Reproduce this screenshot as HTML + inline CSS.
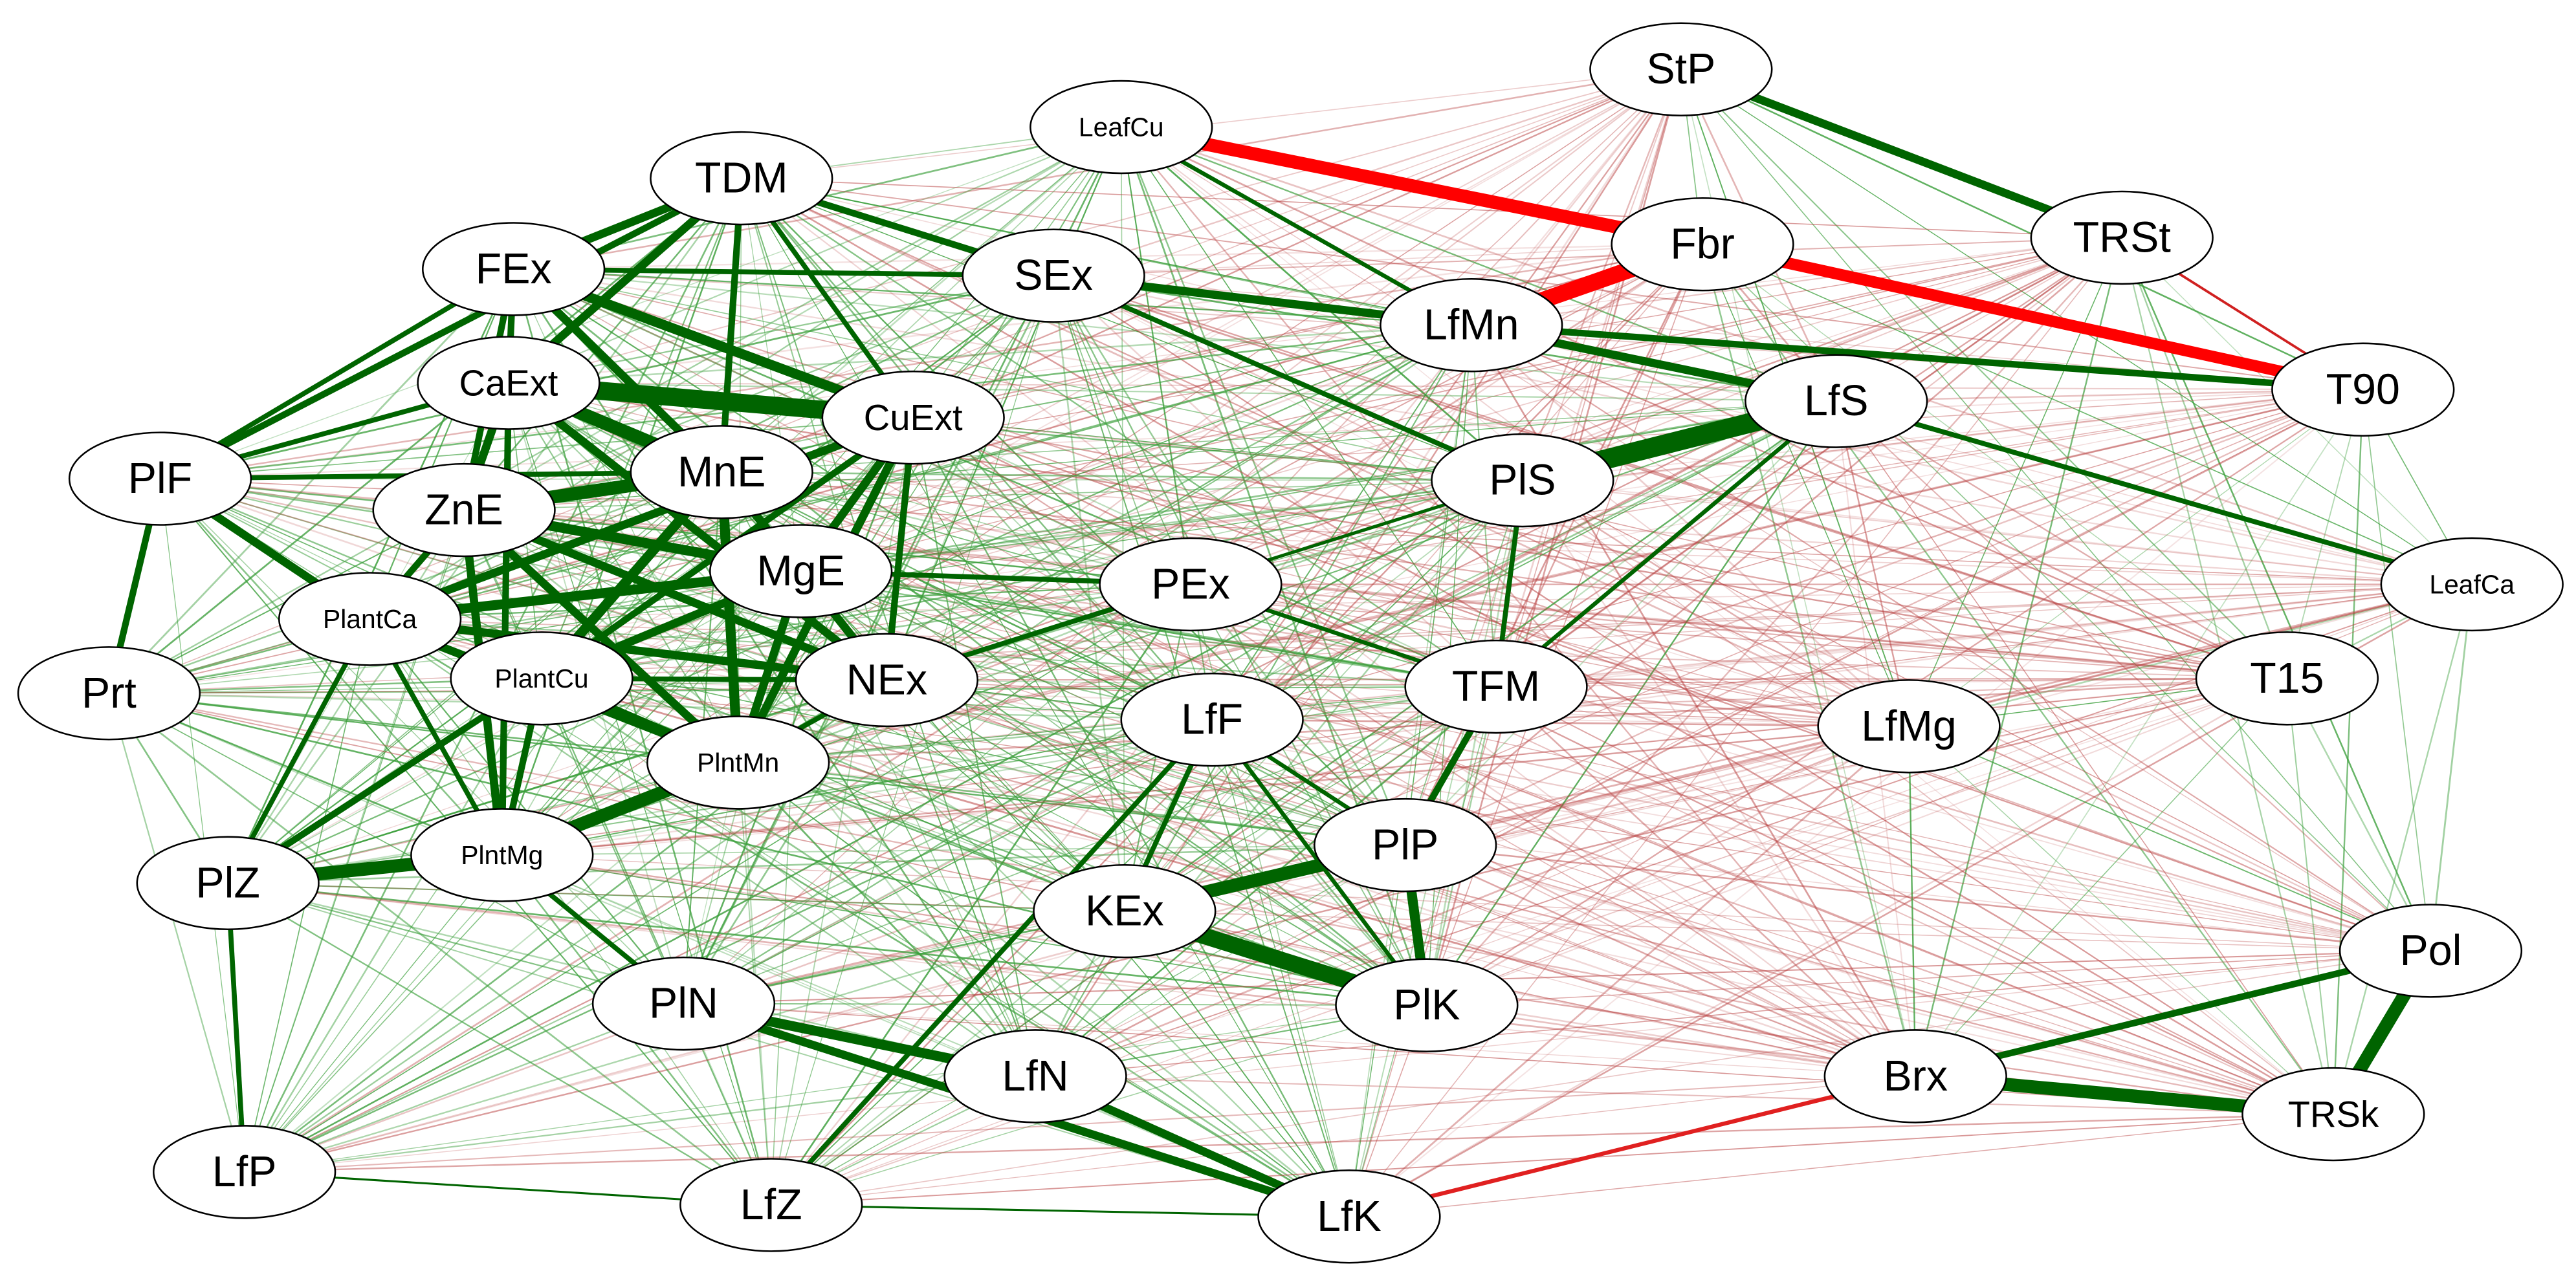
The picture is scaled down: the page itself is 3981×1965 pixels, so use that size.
<!DOCTYPE html>
<html><head><meta charset="utf-8"><style>html,body{margin:0;padding:0;background:#fff}svg{display:block}</style></head>
<body>
<svg id="s" xmlns="http://www.w3.org/2000/svg" width="3981" height="1965" viewBox="0 0 1560 770" preserveAspectRatio="none">
<g id="edges"></g><g id="thick"></g>
<g id="nodes"></g>
</svg>
<script>
var N={StP:[1018,42],LeafCu:[679,77],TDM:[449,108],Fbr:[1031,148],TRSt:[1285,144],FEx:[311,163],SEx:[638,167],LfMn:[891,197],T90:[1431,236],CaExt:[308,232],CuExt:[553,253],LfS:[1112,243],PlF:[97,290],ZnE:[281,309],MnE:[437,286],PlS:[922,291],MgE:[485,346],PEx:[721,354],LeafCa:[1497,354],PlantCa:[224,375],Prt:[66,420],PlantCu:[328,411],NEx:[537,412],TFM:[906,416],LfF:[734,436],T15:[1385,411],LfMg:[1156,440],PlntMn:[447,462],PlP:[851,512],PlntMg:[304,518],PlZ:[138,535],KEx:[681,552],Pol:[1472,576],PlN:[414,608],PlK:[864,609],LfN:[627,652],Brx:[1160,652],TRSk:[1413,675],LfP:[148,710],LfZ:[467,730],LfK:[817,737]};
var A={Fbr:1,StP:1,TRSt:1,T90:1,T15:1,LfMg:1,Pol:1,Brx:1,TRSk:1,LeafCa:1};
var ns="http://www.w3.org/2000/svg";
function ln(g,a,b,c,w,o){var e=document.createElementNS(ns,"line");var p=N[a],q=N[b];e.setAttribute("x1",p[0]);e.setAttribute("y1",p[1]);e.setAttribute("x2",q[0]);e.setAttribute("y2",q[1]);e.setAttribute("stroke",c);e.setAttribute("stroke-width",w);if(o<1)e.setAttribute("stroke-opacity",o);g.appendChild(e);}
var seed=7;function r(){seed=(seed*16807)%2147483647;return seed/2147483647;}
var keys=Object.keys(N),eg=document.getElementById("edges");
for(var i=0;i<keys.length;i++)for(var j=i+1;j<keys.length;j++){var a=keys[i],b=keys[j];var ia=A[a]||0,ib=A[b]||0;var red=(ia!=ib);var rv=r();if(rv<0.15)continue;
var c=red?"#b84040":"#3a9e3a";var o=red?0.15+0.4*r():0.3+0.55*r();ln(eg,a,b,c,0.5+0.6*r(),o);}
var T=[["LeafCu","Fbr","#f00",8],["Fbr","LfMn","#f00",10],["Fbr","T90","#f00",7],["LfK","Brx","#e02020",2.5],["TRSt","T90","#d02020",1.5],
["StP","TRSt",5],["LfMn","T90",4],["LfMn","LfS",5],["LfS","PlS",12],["SEx","LfMn",5],["SEx","PlS",3],["LfS","LeafCa",3],["PlS","TFM",3],["LfS","TFM",2.5],["LeafCu","LfMn",2.5],
["CaExt","CuExt",11],["FEx","CuExt",6],["TDM","CaExt",5],["FEx","MnE",5],["CaExt","MnE",8],["ZnE","MnE",8],["ZnE","MgE",6],["MnE","PlntMn",6],["MgE","PlantCa",6],["PlantCa","NEx",5],["PlantCu","PlntMn",5],["CuExt","PlntMn",5],["CuExt","PlantCa",5],["ZnE","PlntMg",5],["CaExt","PlntMg",4],["MnE","PlantCu",6],["MgE","PlantCu",5],["CaExt","NEx",5],["ZnE","NEx",5],["CuExt","MgE",5],["CuExt","PlantCu",4],["MgE","PlntMn",5],["ZnE","PlntMn",5],["CaExt","ZnE",5],["MnE","MgE",5],["FEx","ZnE",4],["FEx","CaExt",4],["TDM","FEx",5],["TDM","MnE",4],["TDM","SEx",4],["TDM","CuExt",3],["FEx","SEx",3],["MnE","NEx",5],["ZnE","PlantCa",4],["CuExt","NEx",4],["PlantCa","PlntMn",5],
["PlF","TDM",4],["PlF","Prt",4],["PlF","PlantCa",5],["PlF","MnE",3],["PlF","CaExt",3],["PlF","FEx",3],["PlZ","PlntMg",8],["PlZ","PlantCu",4],["PlZ","PlantCa",3],["PlZ","LfP",3],["PlntMg","PlntMn",8],["PlantCu","PlntMg",4],["PlntMg","PlN",3],["PlantCa","PlntMg",3],
["PlN","LfN",6],["PlN","LfK",5],["LfN","LfK",5],["KEx","PlP",8],["KEx","PlK",10],["PlP","PlK",6],["TFM","PlP",4],["LfF","KEx",3],["LfZ","LfF",3],["PEx","NEx",3],["PEx","MgE",3],["PEx","PlS",2],["LfF","PlP",2.5],["PEx","TFM",2.5],["NEx","PlantCu",3],["PlntMn","NEx",3],["LfF","PlK",2.5],
["Pol","Brx",4],["Brx","TRSk",8],["Pol","TRSk",8],["LfP","LfZ",1.2],["LfZ","LfK",1.2]];
var tg=document.getElementById("thick");
T.forEach(function(t){if(typeof t[2]=="string")ln(tg,t[0],t[1],t[2],t[3],1);else ln(tg,t[0],t[1],"#006400",t[2],1);});
var ng=document.getElementById("nodes");
keys.forEach(function(k){var p=N[k];var e=document.createElementNS(ns,"ellipse");e.setAttribute("cx",p[0]);e.setAttribute("cy",p[1]);e.setAttribute("rx",55);e.setAttribute("ry",28);e.setAttribute("fill","#fff");e.setAttribute("stroke","#000");e.setAttribute("stroke-width",1);ng.appendChild(e);});
</script>
<svg style="position:absolute;left:0;top:0" width="3981" height="1965" viewBox="0 0 1560 770" preserveAspectRatio="none" font-family="Liberation Sans, Arial, sans-serif" text-anchor="middle" dominant-baseline="central">
<g font-size="26">
<text x="1018" y="42">StP</text><text x="449" y="108">TDM</text><text x="1031" y="148">Fbr</text><text x="1285" y="144">TRSt</text><text x="311" y="163">FEx</text><text x="638" y="167">SEx</text><text x="891" y="197">LfMn</text><text x="1431" y="236">T90</text><text x="308" y="232" font-size="22">CaExt</text><text x="553" y="253" font-size="22">CuExt</text><text x="1112" y="243">LfS</text><text x="97" y="290">PlF</text><text x="281" y="309">ZnE</text><text x="437" y="286">MnE</text><text x="922" y="291">PlS</text><text x="485" y="346">MgE</text><text x="721" y="354">PEx</text><text x="66" y="420">Prt</text><text x="537" y="412">NEx</text><text x="906" y="416">TFM</text><text x="734" y="436">LfF</text><text x="1385" y="411">T15</text><text x="1156" y="440">LfMg</text><text x="851" y="512">PlP</text><text x="138" y="535">PlZ</text><text x="681" y="552">KEx</text><text x="1472" y="576">Pol</text><text x="414" y="608">PlN</text><text x="864" y="609">PlK</text><text x="627" y="652">LfN</text><text x="1160" y="652">Brx</text><text x="1413" y="675" font-size="22">TRSk</text><text x="148" y="710">LfP</text><text x="467" y="730">LfZ</text><text x="817" y="737">LfK</text>
</g>
<g font-size="16">
<text x="679" y="77">LeafCu</text><text x="1497" y="354">LeafCa</text><text x="224" y="375">PlantCa</text><text x="328" y="411">PlantCu</text><text x="447" y="462">PlntMn</text><text x="304" y="518">PlntMg</text>
</g>
</svg>
</body></html>
